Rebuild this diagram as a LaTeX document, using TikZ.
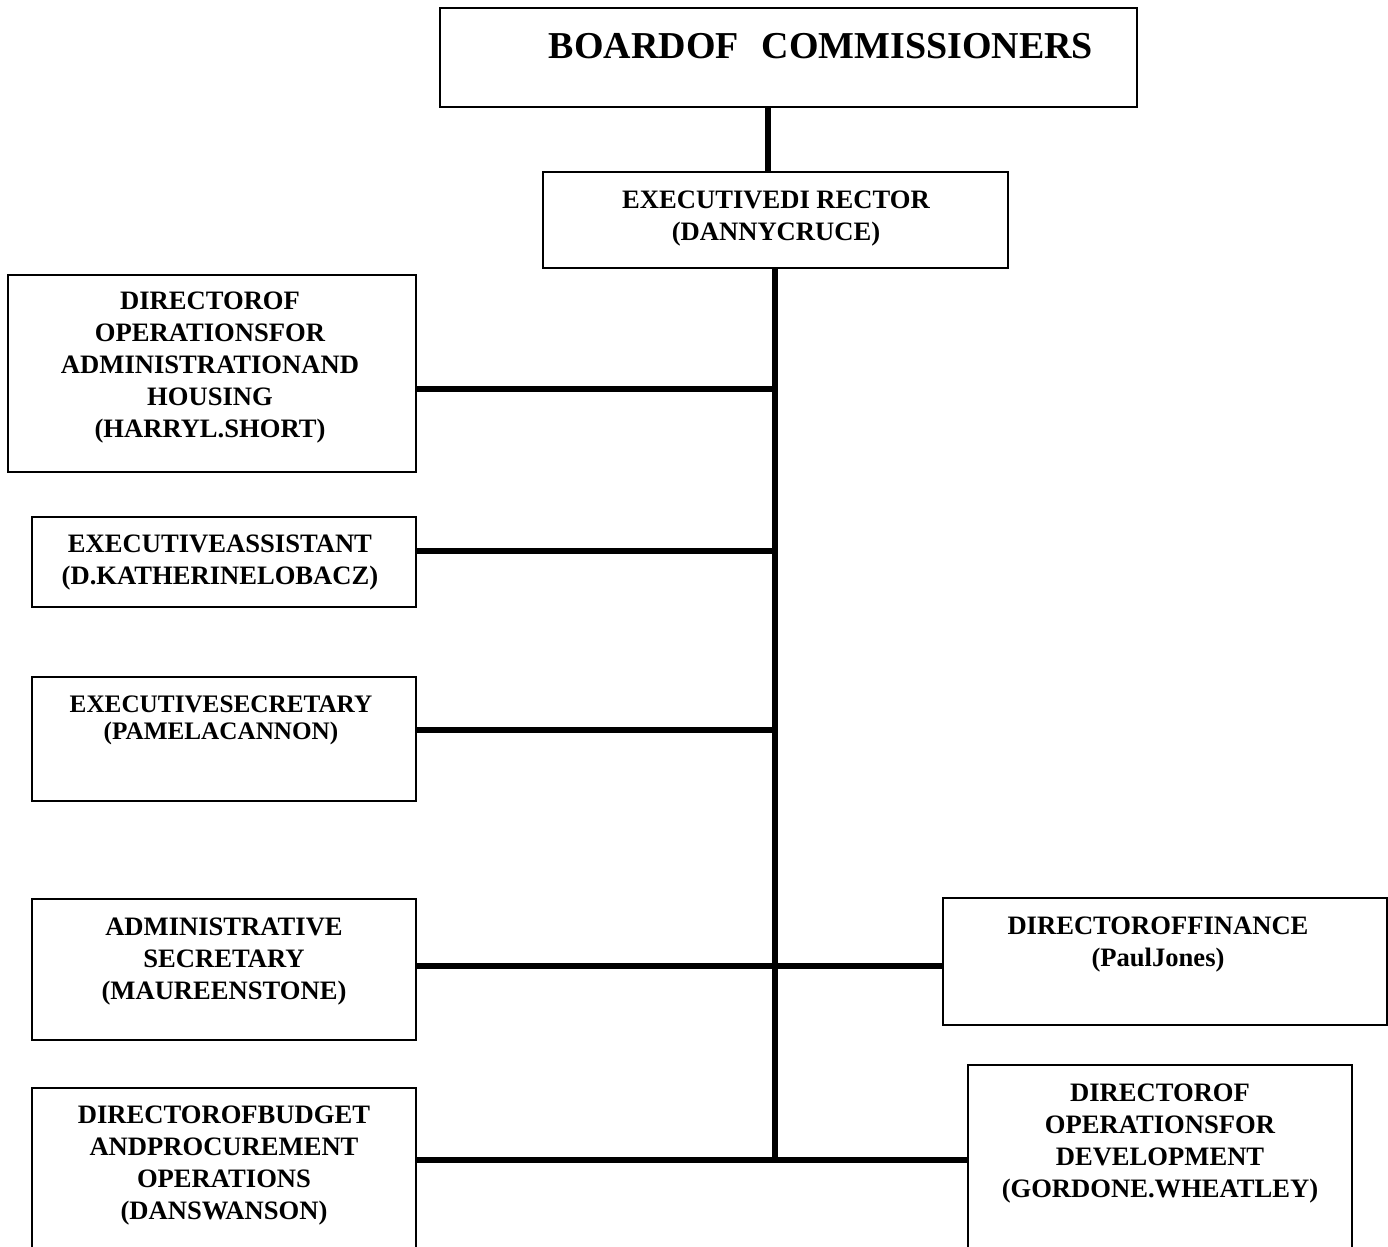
\documentclass[tikz,border=0pt]{standalone}
\usepackage{fontspec}
\setmainfont{Liberation Serif}
\usetikzlibrary{positioning}
\tikzset{
  box/.style={draw, line width=0.75pt, inner sep=0pt},
  txt/.style={align=center, inner sep=0pt, font=\fontsize{13.3}{16}\selectfont\bfseries},
  link/.style={line width=3pt},
}
\begin{document}
\begin{tikzpicture}[x=0.5pt, y=-0.5pt]
\clip (0,0) rectangle (1388,1247);
\fill[white] (0,0) rectangle (1388,1247);
% boxes
\node[box, minimum width=348.5pt, minimum height=49.5pt] (board)  at (788.5,57.5) {};
\node[box, minimum width=232.5pt, minimum height=48pt]   (exec)   at (775.5,220) {};
\node[box, minimum width=204pt,   minimum height=98.5pt] (harry)  at (212,373.5) {};
\node[box, minimum width=192pt,   minimum height=45pt]   (assist) at (224,562) {};
\node[box, minimum width=192pt,   minimum height=62pt]   (esec)   at (224,739) {};
\node[box, minimum width=192pt,   minimum height=70.5pt] (asec)   at (224,969.5) {};
\node[box, minimum width=222pt,   minimum height=63.5pt] (fin)    at (1165,961.5) {};
\node[box, minimum width=192pt,   minimum height=87pt]   (budget) at (224,1175) {};
\node[box, minimum width=192pt,   minimum height=98.5pt] (dev)    at (1160,1163.5) {};
% texts
\node[txt, font=\fontsize{19}{22}\selectfont\bfseries] (boardT) at (821,46) {BOARDOF\hspace{0.6em}COMMISSIONERS};
\node[txt] (execT)   at (776,219)    {EXECUTIVEDI RECTOR\\(DANNYCRUCE)};
\node[txt] (harryT)  at (210,368)    {DIRECTOROF\\OPERATIONSFOR\\ADMINISTRATIONAND\\HOUSING\\(HARRYL.SHORT)};
\node[txt] (assistT) at (220,563)    {EXECUTIVEASSISTANT\\(D.KATHERINELOBACZ)};
\node[txt, font=\fontsize{12.6}{13.5}\selectfont\bfseries] (esecT) at (221,720) {EXECUTIVESECRETARY\\(PAMELACANNON)};
\node[txt] (asecT)   at (224,961.5)  {ADMINISTRATIVE\\SECRETARY\\(MAUREENSTONE)};
\node[txt] (finT)    at (1158,945)   {DIRECTOROFFINANCE\\(PaulJones)};
\node[txt] (budgetT) at (224,1166)   {DIRECTOROFBUDGET\\ANDPROCUREMENT\\OPERATIONS\\(DANSWANSON)};
\node[txt] (devT)    at (1160,1143.5) {DIRECTOROF\\OPERATIONSFOR\\DEVELOPMENT\\(GORDONE.WHEATLEY)};
% joints on the trunk
\coordinate (top) at (768,0);
\coordinate (j1) at (775,389);
\coordinate (j2) at (775,551);
\coordinate (j3) at (775,730);
\coordinate (j4) at (775,966);
\coordinate (j5) at (775,1160);
% connectors
\draw[link] (board.south -| top) -- (exec.north -| top);
\draw[link] (exec.south -| j1) -- (j5);
\draw[link] (j1 -| harry.east) -- (j1);
\draw[link] (j2 -| assist.east) -- (j2);
\draw[link] (j3 -| esec.east) -- (j3);
\draw[link] (j4 -| asec.east) -- (j4 -| fin.west);
\draw[link] (j5 -| budget.east) -- (j5 -| dev.west);
\end{tikzpicture}
\end{document}
